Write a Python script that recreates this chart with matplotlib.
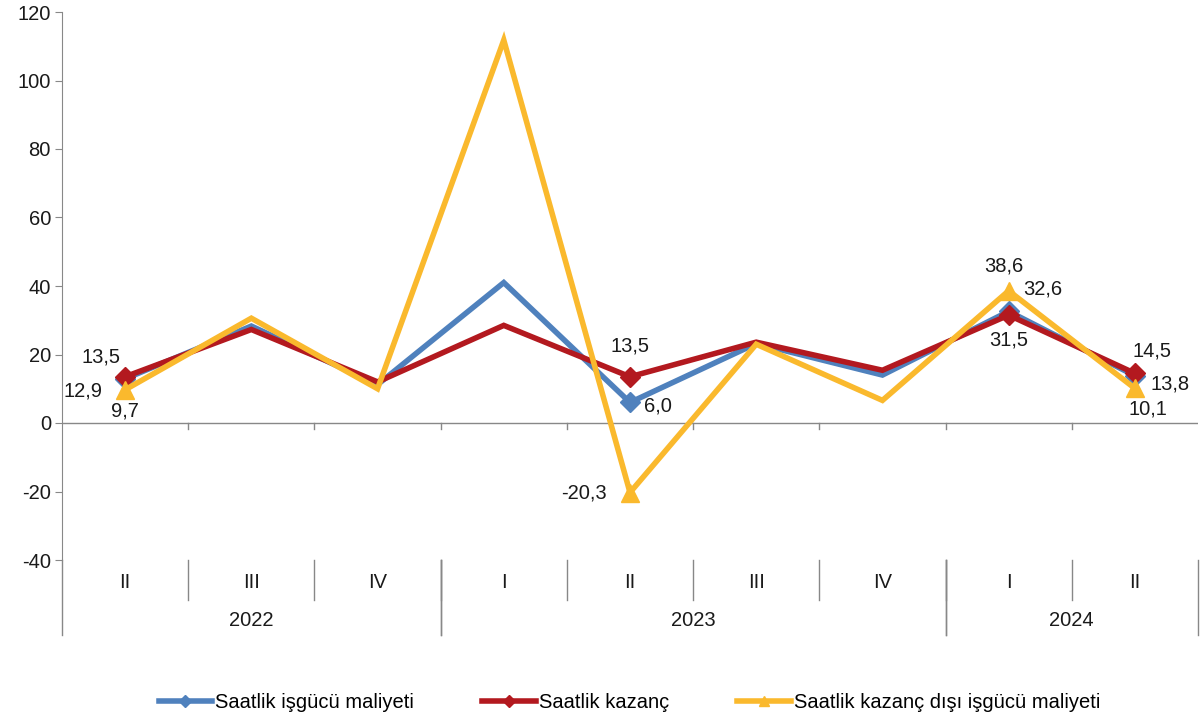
import matplotlib.pyplot as plt
import matplotlib.transforms as mtransforms
import numpy as np

plt.rcParams['font.family'] = ['Liberation Sans', 'DejaVu Sans']
plt.rcParams['axes.unicode_minus'] = False

quarters = ['II', 'III', 'IV', 'I', 'II', 'III', 'IV', 'I', 'II']
years = ['2022', '2023', '2024']
year_spans = [(0, 2), (3, 6), (7, 8)]

iscgucu = [12.9, 28.3, 11.2, 41.0, 6.0, 23.2, 14.0, 32.6, 13.8]
kazanc = [13.5, 27.3, 12.0, 28.5, 13.5, 23.6, 15.4, 31.5, 14.5]
kazanc_disi = [9.7, 30.6, 10.0, 111.8, -20.3, 23.0, 6.6, 38.6, 10.1]

names = ['Saatlik işgücü maliyeti', 'Saatlik kazanç',
         'Saatlik kazanç dışı işgücü maliyeti']
colors = ['#4F81BD', '#B3191F', '#FAB92D']
markers = ['D', 'D', '^']
labelled = [0, 4, 7, 8]

# label offsets in pixels, (series, point) -> (dx, dy)
offsets = {
    (1, 0): (-24, 20), (0, 0): (-42, -12), (2, 0): (0, -21),
    (1, 4): (0, 31), (0, 4): (28, -4), (2, 4): (-46, 0),
    (2, 7): (-5, 25), (0, 7): (34, 22), (1, 7): (0, -25),
    (1, 8): (17, 22), (0, 8): (35, -8), (2, 8): (13, -21),
}
fs = 14.5

fig = plt.figure(figsize=(12.02, 7.22), dpi=100)
ax = fig.add_axes([62 / 1202, 1 - 560 / 722, 1136 / 1202, 548 / 722])

x = np.arange(len(quarters))
series = [iscgucu, kazanc, kazanc_disi]
for s, (vals, c, m, n) in enumerate(zip(series, colors, markers, names)):
    ax.plot(x, vals, color=c, lw=4, marker=m, markersize=13 if m == '^' else 10,
            markevery=labelled, label=n, solid_joinstyle='miter', zorder=3)
    for i in labelled:
        dx, dy = offsets[(s, i)]
        ax.annotate(f'{vals[i]:.1f}'.replace('.', ','), (x[i], vals[i]),
                    xytext=(dx, dy), textcoords='offset pixels',
                    ha='center', va='center', fontsize=fs, color='#1a1a1a')

ax.set_xlim(-0.5, 8.5)
ax.set_ylim(-40, 120)
ax.set_yticks(range(-40, 121, 20))
ax.tick_params(axis='y', labelsize=fs, length=5, color='#888888',
               labelcolor='#1a1a1a', pad=3)
ax.set_xticks([])
for sp in ['top', 'right', 'bottom']:
    ax.spines[sp].set_visible(False)
ax.spines['left'].set_color('#888888')

# zero line with ticks at category boundaries
ax.axhline(0, color='#888888', lw=1, zorder=1)
for b in x[:-1] + 0.5:
    ax.plot([b, b], [0, -1.7], color='#888888', lw=1, zorder=1)

# category axis below the plot
trans = mtransforms.blended_transform_factory(ax.transData, fig.transFigure)
def fy(px):
    return 1 - px / 722

for i, q in enumerate(quarters):
    ax.text(x[i], fy(583), q, transform=trans, ha='center', va='center',
            fontsize=fs, color='#1a1a1a')
for b in x[:-1] + 0.5:
    ax.plot([b, b], [fy(560), fy(600)], transform=trans, color='#888888',
            lw=1, clip_on=False)
for (a, e), yr in zip(year_spans, years):
    ax.text((a + e) / 2, fy(621), yr, transform=trans, ha='center',
            va='center', fontsize=fs, color='#1a1a1a')
    for b in (a - 0.5, e + 0.5):
        ax.plot([b, b], [fy(560), fy(635)], transform=trans, color='#888888',
                lw=1, clip_on=False)

ax.legend(loc='center', bbox_to_anchor=(629.5 / 1202, fy(703)),
          bbox_transform=fig.transFigure, ncol=3, frameon=False,
          fontsize=fs, handlelength=2.65, handletextpad=0.15,
          columnspacing=3.4, markerscale=0.6)

fig.savefig('out.png', dpi=100)
